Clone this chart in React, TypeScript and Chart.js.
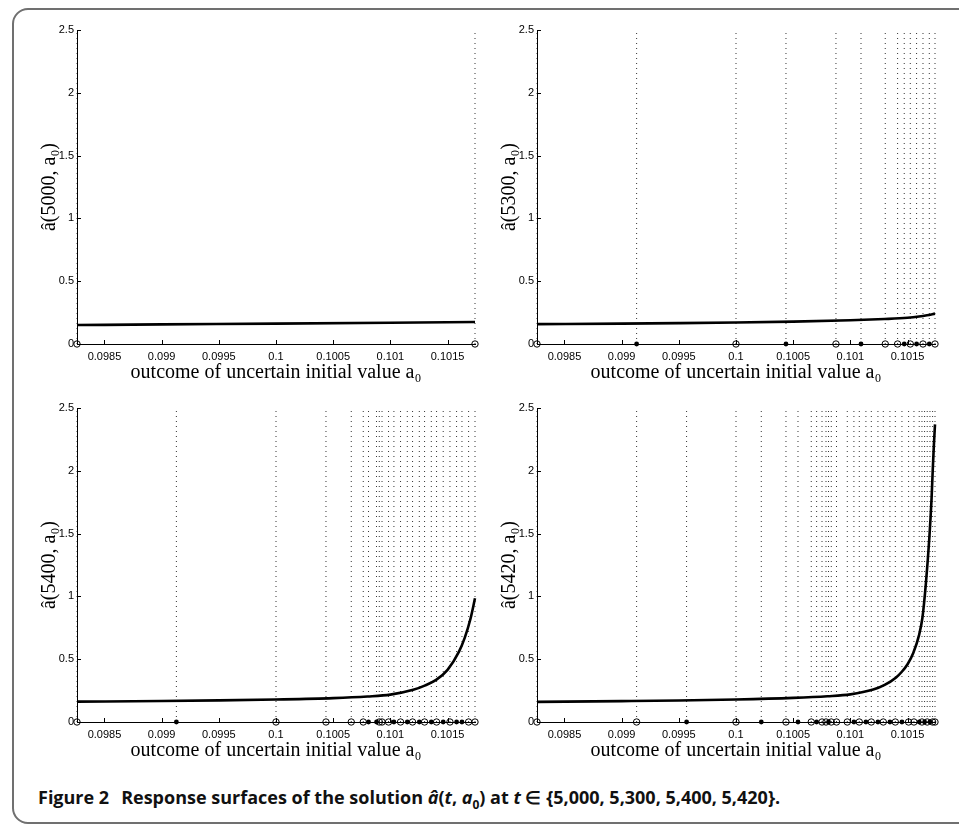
import React, { useEffect, useRef } from "react";
import { Chart, registerables } from "chart.js";

Chart.register(...registerables);

// ---------- axes ----------
const X_MIN = 0.09826;
const X_MAX = 0.10174;
const Y_MIN = 0;
const Y_MAX = 2.5;
const xTickValues = [0.0985, 0.099, 0.0995, 0.1, 0.1005, 0.101, 0.1015];
const xTickLabels = ["0.0985", "0.099", "0.0995", "0.1", "0.1005", "0.101", "0.1015"];
const yTickValues = [0, 0.5, 1, 1.5, 2, 2.5];
const yTickLabels = ["0", "0.5", "1", "1.5", "2", "2.5"];
const times = [5000, 5300, 5400, 5420];
const xAxisTitle = "outcome of uncertain initial value a₀";

// ---------- t = 5000 ----------
const a0_5000 = [0.09826, 0.099, 0.1, 0.101, 0.10174];
const val_5000 = [0.151, 0.156, 0.162, 0.169, 0.175];
const nodes_5000 = [0.09826, 0.10174];
const filled_5000 = [false, false];

// ---------- t = 5300 ----------
const a0_5300 = [0.09826, 0.099, 0.0995, 0.1, 0.1005, 0.101, 0.1013, 0.1015, 0.1016, 0.10167, 0.10174];
const val_5300 = [0.158, 0.162, 0.166, 0.171, 0.178, 0.189, 0.199, 0.209, 0.219, 0.229, 0.242];
const nodes_5300 = [
  0.09826, 0.099131, 0.1, 0.100437, 0.100874, 0.101093, 0.101305, 0.101413, 0.101471,
  0.101524, 0.101579, 0.101635, 0.10169, 0.10174,
];
const filled_5300 = [
  false, true, false, true, false, true, false, false, true,
  false, true, false, true, false,
];

// ---------- t = 5400 ----------
const a0_5400 = [
  0.09826, 0.099, 0.0995, 0.1, 0.1005, 0.1008, 0.101, 0.1012, 0.1013, 0.1014, 0.1015,
  0.1016, 0.10165, 0.1017, 0.10174,
];
const val_5400 = [
  0.162, 0.167, 0.172, 0.179, 0.19, 0.203, 0.218, 0.256, 0.29, 0.335, 0.415,
  0.56, 0.67, 0.82, 0.985,
];
const nodes_5400 = [
  0.09826, 0.099129, 0.1, 0.100437, 0.100658, 0.100763, 0.100809, 0.100879, 0.100903,
  0.100927, 0.100984, 0.101031, 0.101089, 0.101148, 0.101194, 0.101253, 0.101299,
  0.101358, 0.101404, 0.101462, 0.101521, 0.101579, 0.101626, 0.101684, 0.10174,
];
const filled_5400 = [
  false, true, false, false, false, false, true, true, false,
  false, false, true, false, true, false, true, false,
  true, false, true, false, true, true, false, false,
];

// ---------- t = 5420 ----------
const a0_5420 = [
  0.09826, 0.099, 0.0995, 0.1, 0.1005, 0.1008, 0.101, 0.1012, 0.1013, 0.1014, 0.10145,
  0.1015, 0.10155, 0.1016, 0.10163, 0.10166, 0.10169, 0.10171, 0.10172, 0.10173, 0.10174,
];
const val_5420 = [
  0.16, 0.166, 0.171, 0.179, 0.192, 0.205, 0.22, 0.258, 0.295, 0.355, 0.4,
  0.46, 0.55, 0.69, 0.83, 1.1, 1.46, 1.78, 2.0, 2.2, 2.37,
];
const nodes_5420 = [
  0.09826, 0.099131, 0.099568, 0.1, 0.100221, 0.100437, 0.100542, 0.100658, 0.100705,
  0.100752, 0.100787, 0.100809, 0.100833, 0.100879, 0.100973, 0.101031, 0.101078,
  0.101136, 0.101183, 0.101241, 0.101288, 0.101346, 0.101393, 0.101451, 0.101509,
  0.101556, 0.101602, 0.101626, 0.101649, 0.101672, 0.101696, 0.101719, 0.10174,
];
const filled_5420 = [
  false, false, true, false, true, false, true, false, true,
  false, false, true, false, false, false, true, false,
  true, false, true, false, true, false, true, false,
  false, true, false, true, false, true, false, false,
];

const panels = [
  { t: times[0], a0: a0_5000, vals: val_5000, nodes: nodes_5000, filled: filled_5000, left: 0, top: 0 },
  { t: times[1], a0: a0_5300, vals: val_5300, nodes: nodes_5300, filled: filled_5300, left: 460, top: 0 },
  { t: times[2], a0: a0_5400, vals: val_5400, nodes: nodes_5400, filled: filled_5400, left: 0, top: 378 },
  { t: times[3], a0: a0_5420, vals: val_5420, nodes: nodes_5420, filled: filled_5420, left: 460, top: 378 },
];

const TICK_FONT = { family: "'Liberation Sans', Arial, Helvetica, sans-serif", size: 11 };
const TITLE_FONT = { family: "'Liberation Serif', 'Times New Roman', serif", size: 20 };

const inwardTicks = {
  id: "inwardTicks",
  beforeDatasetsDraw(chart: any) {
    const { ctx, chartArea } = chart;
    const xs = chart.scales.x;
    const ys = chart.scales.y;
    ctx.save();
    ctx.strokeStyle = "#000";
    ctx.lineWidth = 1;
    ctx.beginPath();
    xTickValues.forEach((v) => {
      const px = Math.round(xs.getPixelForValue(v)) + 0.5;
      ctx.moveTo(px, chartArea.bottom);
      ctx.lineTo(px, chartArea.bottom - 4);
    });
    yTickValues.forEach((v) => {
      const py = Math.round(ys.getPixelForValue(v)) + 0.5;
      ctx.moveTo(chartArea.left, py);
      ctx.lineTo(chartArea.left + 4, py);
    });
    ctx.stroke();
    ctx.restore();
  },
};

function labelFor(values: number[], labels: string[], v: number) {
  for (let i = 0; i < values.length; i++) {
    if (Math.abs(values[i] - v) < 1e-9) return labels[i];
  }
  return "";
}

function Panel(props: any) {
  const { t, a0, vals, nodes, filled, left, top } = props;
  const ref = useRef<HTMLCanvasElement | null>(null);

  useEffect(() => {
    if (!ref.current) return;
    const lineData: any[] = [];
    nodes.forEach((v: number) => {
      lineData.push({ x: v, y: Y_MIN }, { x: v, y: Y_MAX }, { x: v, y: null });
    });
    const openPts = nodes.filter((_: number, i: number) => !filled[i]).map((x: number) => ({ x, y: 0 }));
    const filledPts = nodes.filter((_: number, i: number) => filled[i]).map((x: number) => ({ x, y: 0 }));

    const chart = new Chart(ref.current, {
      type: "scatter",
      data: {
        datasets: [
          {
            data: lineData,
            showLine: true,
            spanGaps: false,
            borderColor: "rgba(0,0,0,0.8)",
            borderWidth: 1,
            borderDash: [1, 4],
            pointRadius: 0,
            clip: false,
          } as any,
          {
            data: a0.map((x: number, i: number) => ({ x, y: vals[i] })),
            showLine: true,
            borderColor: "#000",
            borderWidth: 2.6,
            pointRadius: 0,
            cubicInterpolationMode: "monotone",
            clip: false,
          } as any,
          {
            data: filledPts,
            showLine: false,
            pointRadius: 2.4,
            pointBackgroundColor: "#000",
            pointBorderColor: "#000",
            pointBorderWidth: 0,
            clip: false,
          } as any,
          {
            data: openPts,
            showLine: false,
            pointRadius: 3.2,
            pointBackgroundColor: "rgba(0,0,0,0)",
            pointBorderColor: "#000",
            pointBorderWidth: 1,
            clip: false,
          } as any,
        ],
      },
      options: {
        animation: false,
        responsive: false,
        devicePixelRatio: 1,
        events: [],
        layout: { padding: { top: 30, right: 5, left: 0, bottom: 0 } },
        plugins: { legend: { display: false }, tooltip: { enabled: false } },
        scales: {
          x: {
            type: "linear",
            min: X_MIN,
            max: X_MAX,
            afterBuildTicks: (s: any) => {
              s.ticks = xTickValues.map((v) => ({ value: v }));
            },
            afterFit: (s: any) => {
              s.height = 56;
            },
            grid: { display: false, drawTicks: false },
            border: { display: true, color: "#000", width: 1 },
            ticks: {
              autoSkip: false,
              maxRotation: 0,
              padding: 6,
              color: "#000",
              font: TICK_FONT,
              callback: (v: any) => labelFor(xTickValues, xTickLabels, Number(v)),
            },
            title: {
              display: true,
              text: xAxisTitle,
              color: "#000",
              font: TITLE_FONT,
              padding: { top: 0, bottom: 15 },
            },
          },
          y: {
            type: "linear",
            min: Y_MIN,
            max: Y_MAX,
            afterBuildTicks: (s: any) => {
              s.ticks = yTickValues.map((v) => ({ value: v }));
            },
            afterFit: (s: any) => {
              s.width = 77;
            },
            grid: { display: false, drawTicks: false },
            border: { display: true, color: "#000", width: 1 },
            ticks: {
              padding: 3,
              color: "#000",
              font: TICK_FONT,
              callback: (v: any) => labelFor(yTickValues, yTickLabels, Number(v)),
            },
            title: {
              display: true,
              text: `â(${t}, a₀)`,
              color: "#000",
              font: TITLE_FONT,
              padding: { top: 38, bottom: 0 },
            },
          },
        },
      },
      plugins: [inwardTicks],
    } as any);
    return () => chart.destroy();
  }, []);

  return (
    <canvas
      ref={ref}
      width={480}
      height={400}
      style={{ position: "absolute", left, top, width: 480, height: 400 }}
    />
  );
}

export default function App() {
  return (
    <div
      style={{
        position: "absolute",
        left: 0,
        top: 0,
        width: 959,
        height: 825,
        overflow: "hidden",
        background: "#fff",
      }}
    >
      <div
        style={{
          position: "absolute",
          left: 12,
          top: 8,
          width: 1000,
          height: 816,
          border: "2px solid #707070",
          borderRadius: 16,
          boxSizing: "border-box",
        }}
      />
      {panels.map((p, i) => (
        <Panel key={i} {...p} />
      ))}
      <div
        style={{
          position: "absolute",
          left: 38,
          top: 785,
          whiteSpace: "nowrap",
          fontFamily: "'Open Sans', 'Noto Sans', sans-serif",
          fontWeight: 700,
          fontSize: 18,
          lineHeight: "24px",
          color: "#111",
        }}
      >
        <span style={{ marginRight: 12 }}>Figure 2</span>
        Response surfaces of the solution <i>â</i>(<i>t</i>, <i>a</i>
        <sub style={{ fontSize: 12, lineHeight: 0 }}>0</sub>) at <i>t</i> ∈ {"{"}5,000, 5,300, 5,400, 5,420{"}"}.
      </div>
    </div>
  );
}
